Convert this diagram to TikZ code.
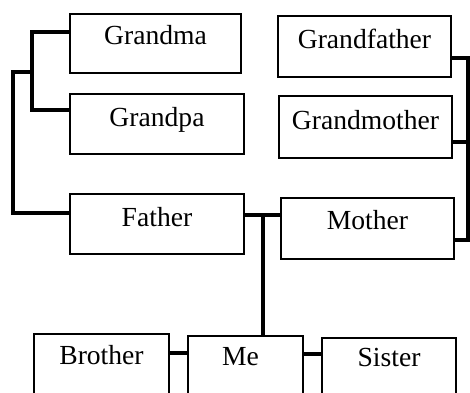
\documentclass[tikz,border=0pt]{standalone}
\usepackage{fontspec}
\setmainfont{Liberation Serif}
\usetikzlibrary{calc}
\tikzset{
  person/.style={draw, line width=2pt, inner xsep=0pt, inner ysep=0pt,
    anchor=north west, align=center,
    font=\fontsize{27.6}{30}\selectfont},
  link/.style={line width=3.5pt, line join=miter}
}
% box: name, left, top, right, bottom, baseline, text
\newcommand\famnode[7]{%
  \pgfmathsetmacro\bw{#4-#2}%
  \pgfmathsetmacro\th{#6-#3}%
  \pgfmathsetmacro\td{#5-#6}%
  \node[person, minimum width=\bw pt, text width=\bw pt,
        text height=\th pt, text depth=\td pt] (#1) at (#2,#3) {#7};%
}
\begin{document}
\begin{tikzpicture}[x=1pt, y=-1pt]
  \useasboundingbox (0,0) rectangle (470,392);
  \clip (0,0) rectangle (470,392);

  % paternal grandparents
  \famnode{gma}{69}{13}{240}{72}{43}{Grandma}
  \famnode{gpa}{69}{93}{243}{153}{125}{Grandpa}
  % maternal grandparents
  \famnode{gfa}{277}{15}{450}{76}{47}{Grandfather}
  \famnode{gmo}{278}{95}{451}{157}{128}{Grandmother}
  % parents
  \famnode{father}{69}{193}{243}{253}{225}{Father}
  \famnode{mother}{280}{197}{453}{258}{228}{Mother}
  % children
  \famnode{brother}{33}{333}{168}{400}{363}{Brother}
  \famnode{me}{187}{335}{302}{400}{364}{\hspace*{-10pt}Me}
  \famnode{sister}{321}{337}{455}{400}{365}{Sister}

  % bend points of the connectors
  \coordinate (lin) at (32,72);
  \coordinate (lout) at (13,72);
  \coordinate (rgt) at (468,240);
  \coordinate (drop) at (263,215);

  % Grandma + Grandpa bracket
  \draw[link] ([yshift=-19pt]gma.north west) -| (lin)
              |- ([yshift=-17pt]gpa.north west);
  % bracket down to Father
  \draw[link] (lin) -- (lout) |- ([yshift=-20pt]father.north west);
  % Grandfather + Grandmother bracket down to Mother
  \draw[link] ([yshift=-43pt]gfa.north east) -| (rgt) -- (rgt -| mother.east);
  \draw[link] ([yshift=-47pt]gmo.north east) -- ++(17,0);
  % Father -- Mother
  \draw[link] ([yshift=-22pt]father.north east) -- (drop)
              -- ([yshift=-18pt]mother.north west);
  % children line
  \draw[link] (drop) -- (drop |- me.north);
  \draw[link] ([yshift=-20pt]brother.north east) -- ([yshift=-18pt]me.north west);
  \draw[link] ([yshift=-19pt]me.north east) -- ([yshift=-17pt]sister.north west);
\end{tikzpicture}
\end{document}
